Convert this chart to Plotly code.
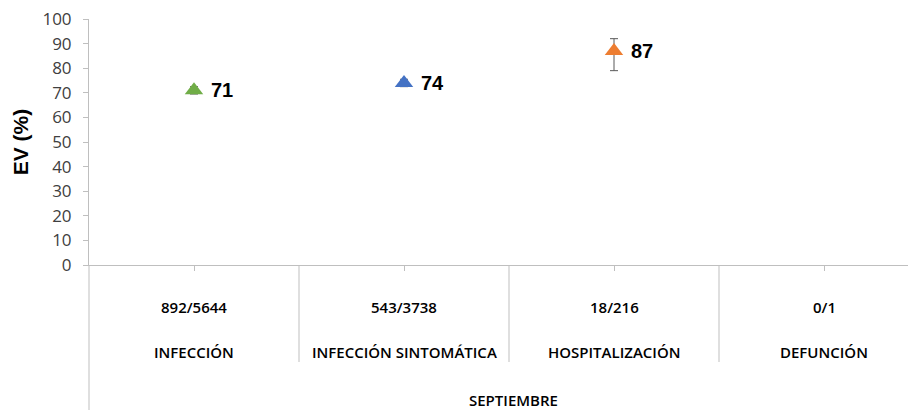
import plotly.graph_objects as go

categories = ["INFECCIÓN", "INFECCIÓN SINTOMÁTICA", "HOSPITALIZACIÓN", "DEFUNCIÓN"]
counts = ["892/5644", "543/3738", "18/216", "0/1"]
ev_values = [71, 74, 87, None]
err_plus = [1.5, 1.5, 5, None]
err_minus = [1.5, 1.5, 8, None]
colors = ["#70AD47", "#4472C4", "#ED7D31", "#A5A5A5"]
group_label = "SEPTIEMBRE"
y_ticks = list(range(0, 101, 10))

# page has an 8px body margin; compensate
OFF = 8
W, H = 916, 410
L, R, T, B = 89 - OFF, 0, 19 - OFF, 145 + OFF
plot_h = H - T - B

fig = go.Figure()
for i, (v, ep, em, c) in enumerate(zip(ev_values, err_plus, err_minus, colors)):
    if v is None:
        continue
    fig.add_trace(go.Scatter(
        x=[i], y=[v], mode="markers",
        marker=dict(symbol="triangle-up", size=16, color=c),
        error_y=dict(type="data", array=[ep], arrayminus=[em], color="#595959",
                     thickness=1, width=4),
        showlegend=False, hoverinfo="skip"))
    fig.add_annotation(x=i, y=v, xref="x", yref="y", text=f"<b>{v}</b>",
                       showarrow=False, xanchor="left", xshift=15,
                       font=dict(family="Liberation Sans, Arial", size=20, color="#000000"))

# category labels (two rows)
for i, (cnt, cat) in enumerate(zip(counts, categories)):
    fig.add_annotation(x=i, y=-42 / plot_h, xref="x", yref="paper", text=cnt,
                       showarrow=False, yanchor="middle",
                       font=dict(family="Open Sans", size=15, color="#000000", weight=600))
    fig.add_annotation(x=i, y=-87 / plot_h, xref="x", yref="paper", text=cat,
                       showarrow=False, yanchor="middle",
                       font=dict(family="Open Sans", size=15, color="#000000", weight=600))

fig.add_annotation(x=(len(categories) - 1) / 2 + 0.02, y=-135 / plot_h, xref="x", yref="paper",
                   text=group_label, showarrow=False, yanchor="middle",
                   font=dict(family="Open Sans", size=15, color="#000000", weight=600))

# separators between categories
for i in range(1, len(categories)):
    fig.add_shape(type="line", xref="x", yref="paper", x0=i - 0.5, x1=i - 0.5,
                  y0=0, y1=-97 / plot_h, line=dict(color="#BFBFBF", width=1))
# left axis extension
fig.add_shape(type="line", xref="paper", yref="paper", x0=0, x1=0,
              y0=0, y1=-(B) / plot_h, line=dict(color="#BFBFBF", width=1))

x_span = (W - L - R) / 210.0
fig.update_layout(
    width=W, height=H,
    margin=dict(l=L, r=R, t=T, b=B),
    paper_bgcolor="white", plot_bgcolor="white",
    xaxis=dict(range=[-0.5, -0.5 + x_span], showgrid=False, zeroline=False,
               showline=True, linecolor="#BFBFBF", linewidth=1,
               tickmode="array", tickvals=list(range(len(categories))), ticktext=[""] * len(categories),
               ticks="outside", ticklen=5, tickcolor="#BFBFBF", showticklabels=False),
    yaxis=dict(range=[0, 100], showgrid=False, zeroline=False,
               showline=True, linecolor="#BFBFBF", linewidth=1,
               tickmode="array", tickvals=y_ticks,
               ticks="outside", ticklen=5, tickcolor="#BFBFBF",
               ticklabeloverflow="allow", ticklabelstandoff=8,
               tickfont=dict(family="Open Sans", size=17, color="#404040"),
               title=dict(text="<b>EV (%)</b>", standoff=8,
                          font=dict(family="Liberation Sans, Arial", size=21, color="#000000"))),
)

fig.write_html("out.html")
